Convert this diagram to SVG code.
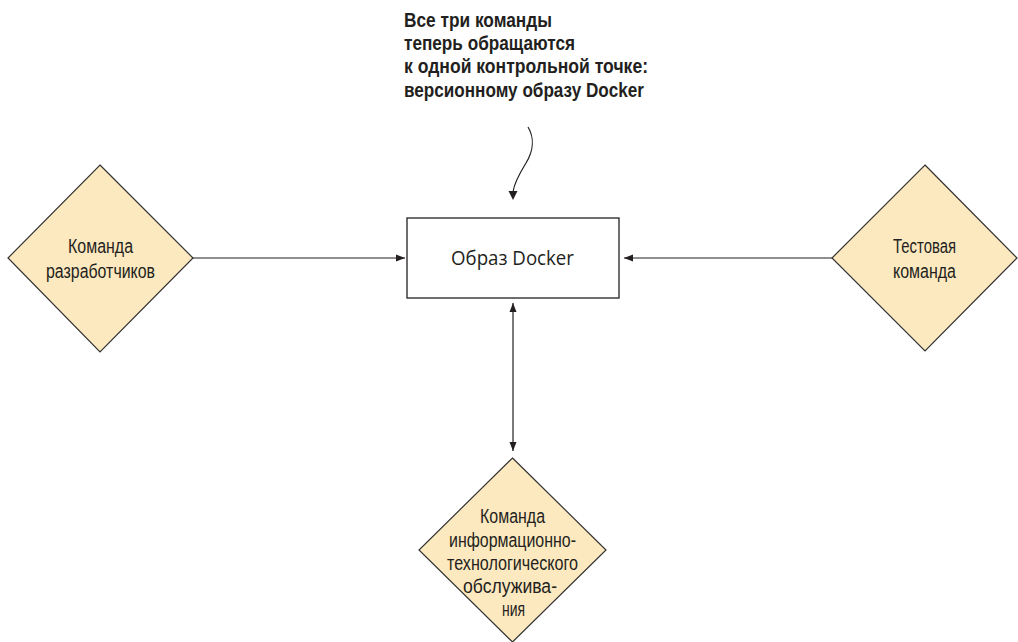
<svg xmlns="http://www.w3.org/2000/svg" width="1018" height="642" viewBox="0 0 1018 642">
  <style>
    .dia { fill: #fde9bf; stroke: #333333; stroke-width: 1.2; }
    .box { fill: #ffffff; stroke: #231f20; stroke-width: 1.3; }
    .lbl { font-family: "Liberation Sans", Arial, sans-serif; font-size: 20px; fill: #231f20; text-anchor: middle; }
    .boxlbl { font-family: "Open Sans", "Liberation Sans", sans-serif; font-size: 20px; fill: #231f20; text-anchor: middle; }
    .title { font-family: "Liberation Sans", Arial, sans-serif; font-size: 20.5px; font-weight: bold; fill: #231f20; }
    .conn { fill: none; stroke: #231f20; stroke-width: 1.2; }
  </style>
  <defs>
    <marker id="arr" markerUnits="userSpaceOnUse" markerWidth="10" markerHeight="8" refX="9" refY="3.5" orient="auto-start-reverse" viewBox="0 0 10 7">
      <path d="M0,0 L9,3.5 L0,7 Z" fill="#231f20"/>
    </marker>
  </defs>

  <g id="title">
    <text class="title" x="404" y="27" textLength="148" lengthAdjust="spacingAndGlyphs">Все три команды</text>
    <text class="title" x="404" y="50" textLength="171" lengthAdjust="spacingAndGlyphs">теперь обращаются</text>
    <text class="title" x="404" y="73" textLength="244" lengthAdjust="spacingAndGlyphs">к одной контрольной точке:</text>
    <text class="title" x="404" y="97" textLength="240" lengthAdjust="spacingAndGlyphs">версионному образу Docker</text>
  </g>

  <g id="connectors">
    <path class="conn" d="M528,127 C534,137 534,150 526,163 C518,176 514,184 513,192"/>
    <path d="M508.5,191 L517.5,191 L513,200 Z" fill="#231f20"/>
    <line class="conn" x1="193" y1="258" x2="405" y2="258" marker-end="url(#arr)"/>
    <line class="conn" x1="832" y1="258" x2="624" y2="258" marker-end="url(#arr)"/>
    <line class="conn" x1="513" y1="303" x2="513" y2="451" marker-start="url(#arr)" marker-end="url(#arr)"/>
  </g>

  <g id="docker-image">
    <rect class="box" x="407" y="218" width="212" height="80"/>
    <text class="boxlbl" x="512.5" y="265" textLength="123" lengthAdjust="spacingAndGlyphs">Образ Docker</text>
  </g>

  <g id="dev-team">
    <polygon class="dia" points="100,165 193,258 100,352 8,258"/>
    <text class="lbl" x="100.5" y="253" textLength="65" lengthAdjust="spacingAndGlyphs">Команда</text>
    <text class="lbl" x="100.5" y="278" textLength="109" lengthAdjust="spacingAndGlyphs">разработчиков</text>
  </g>

  <g id="test-team">
    <polygon class="dia" points="925,165 1017,258 925,351 832,258"/>
    <text class="lbl" x="924.5" y="253" textLength="63" lengthAdjust="spacingAndGlyphs">Тестовая</text>
    <text class="lbl" x="924.5" y="278" textLength="63" lengthAdjust="spacingAndGlyphs">команда</text>
  </g>

  <g id="it-team">
    <polygon class="dia" points="512.5,458 606,550 512.5,642 419,550"/>
    <text class="lbl" x="512.5" y="523" textLength="65" lengthAdjust="spacingAndGlyphs">Команда</text>
    <text class="lbl" x="512.5" y="547" textLength="127" lengthAdjust="spacingAndGlyphs">информационно-</text>
    <text class="lbl" x="512.5" y="570" textLength="131" lengthAdjust="spacingAndGlyphs">технологического</text>
    <text class="lbl" x="510" y="593" textLength="94" lengthAdjust="spacingAndGlyphs">обслужива-</text>
    <text class="lbl" x="513.5" y="616" textLength="23" lengthAdjust="spacingAndGlyphs">ния</text>
  </g>
</svg>
